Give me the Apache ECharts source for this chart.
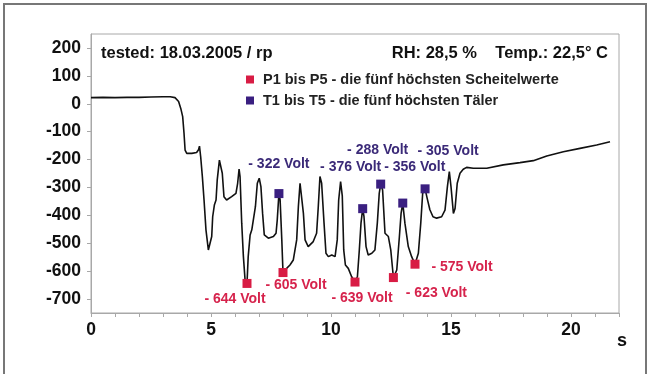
<!DOCTYPE html>
<html>
<head>
<meta charset="utf-8">
<script src="https://cdn.jsdelivr.net/npm/echarts@6/dist/echarts.min.js"></script>
<style>
html,body{margin:0;padding:0;background:#fff;}
#c{width:650px;height:374px;}
</style>
</head>
<body>
<div id="c"></div>
<script>
// ---- data ----
const timeS = [0,0.5,1.0,1.5,2.0,2.5,3.0,3.3,3.5,3.65,3.75,3.82,3.875,3.92,3.99,4.2,4.4,4.48,4.52,4.57,4.64,4.71,4.79,4.89,4.96,5.03,5.07,5.14,5.21,5.26,5.35,5.4,5.47,5.54,5.65,5.86,6.04,6.11,6.17,6.21,6.28,6.35,6.42,6.5,6.55,6.63,6.7,6.78,6.85,6.93,7.01,7.08,7.15,7.22,7.39,7.6,7.71,7.76,7.83,7.88,7.95,8.0,8.05,8.15,8.29,8.43,8.57,8.64,8.71,8.78,8.85,8.92,9.05,9.26,9.4,9.47,9.54,9.61,9.71,9.79,9.89,10.03,10.17,10.26,10.32,10.4,10.47,10.53,10.6,10.72,10.86,11.0,11.1,11.18,11.25,11.32,11.375,11.46,11.55,11.7,11.83,11.93,12.01,12.07,12.15,12.25,12.39,12.49,12.57,12.6,12.74,12.85,12.92,12.99,13.08,13.22,13.36,13.5,13.64,13.74,13.82,13.92,14.01,14.12,14.25,14.4,14.61,14.75,14.85,14.93,15.0,15.1,15.17,15.26,15.375,15.51,15.65,15.93,16.49,17.18,17.875,18.43,18.99,19.68,20.375,21.07,21.625];
const voltV = [22,23,22,23,23,24,25,25,22,8,-20,-46,-105,-166,-178,-178,-175,-165,-152,-190,-261,-345,-452,-524,-530,-476,-405,-363,-345,-273,-202,-196,-249,-333,-345,-333,-321,-285,-234,-261,-428,-548,-632,-644,-548,-470,-452,-446,-369,-285,-267,-297,-393,-470,-482,-476,-464,-417,-322,-345,-488,-605,-595,-590,-578,-560,-488,-369,-285,-291,-393,-488,-512,-494,-464,-369,-261,-285,-428,-536,-548,-542,-548,-488,-345,-279,-330,-524,-578,-590,-620,-639,-620,-524,-428,-376,-405,-512,-542,-536,-524,-428,-321,-288,-309,-464,-476,-524,-596,-623,-596,-476,-393,-356,-428,-512,-548,-575,-536,-428,-321,-305,-340,-380,-405,-410,-405,-381,-297,-243,-297,-393,-375,-285,-249,-235,-228,-231,-231,-219,-211,-204,-187,-172,-160,-148,-136];

const peakTime = [6.5, 8.0, 11.0, 12.6, 13.5];
const peakVolt = [-644, -605, -639, -623, -575];
const valleyTime = [7.83, 11.32, 12.07, 12.99, 13.92];
const valleyVolt = [-322, -376, -288, -356, -305];

const yTicks = [-700,-600,-500,-400,-300,-200,-100,0,100,200];
const xLabelStep = 5;

const peakName = 'P1 bis P5 - die fünf höchsten Scheitelwerte';
const valleyName = 'T1 bis T5 - die fünf höchsten Täler';
const headLeft = 'tested: 18.03.2005 / rp';
const headRight = 'RH: 28,5 %    Temp.: 22,5° C';
const xUnit = 's';

// ---- styling ----
const RED = '#d81c44';
const PURPLE = '#3a1f80';
const RED_TXT = '#d6234c';
const PURPLE_TXT = '#3b2a78';
const FONT = 'Liberation Sans, Arial, sans-serif';
const peakOffsets = [[-12,16],[13,13],[7,16],[43,16],[47,3]];
const valleyOffsets = [[0,-29],[-12,-42],[-3,-34],[12,-36],[23,-38]];

const lineData = timeS.map((t,i)=>[t, voltV[i]]);
const voltLabel = v => '- ' + Math.abs(v) + ' Volt';

const chart = echarts.init(document.getElementById('c'), null, {renderer:'canvas'});
chart.setOption({
  animation:false,
  backgroundColor:'#fff',
  textStyle:{fontFamily:FONT},
  grid:{left:91, right:31, top:34, bottom:61, show:true, borderColor:'#a8a8a8', borderWidth:1},
  title:[
    {text:headLeft, left:96, top:40, textStyle:{fontSize:16.5, fontWeight:'bold', color:'#111', fontFamily:FONT}},
    {text:headRight, right:37, top:40, textStyle:{fontSize:16.5, fontWeight:'bold', color:'#111', fontFamily:FONT}}
  ],
  legend:[
    {data:[peakName], left:241, top:67, itemWidth:8, itemHeight:8, icon:'rect',
     textStyle:{fontSize:14.5, fontWeight:'bold', color:'#222', fontFamily:FONT, padding:[0,0,0,4]}},
    {data:[valleyName], left:241, top:88, itemWidth:8, itemHeight:8, icon:'rect',
     textStyle:{fontSize:14.5, fontWeight:'bold', color:'#222', fontFamily:FONT, padding:[0,0,0,4]}}
  ],
  xAxis:{
    type:'value', min:0, max:22, interval:1,
    axisLine:{show:true, onZero:false, lineStyle:{color:'#a8a8a8'}},
    axisTick:{show:true, length:4, lineStyle:{color:'#a8a8a8'}},
    axisLabel:{margin:8, fontSize:17.5, fontWeight:'bold', color:'#111', fontFamily:FONT,
      formatter:v => (v % xLabelStep === 0 && v <= 20) ? String(v) : ''},
    splitLine:{show:false}
  },
  yAxis:{
    type:'value', min:-750, max:250,
    axisLine:{show:true, onZero:false, lineStyle:{color:'#a8a8a8'}},
    axisTick:{show:true, length:4, customValues:yTicks, lineStyle:{color:'#a8a8a8'}},
    axisLabel:{margin:10, fontSize:17.5, fontWeight:'bold', color:'#111', fontFamily:FONT, customValues:yTicks},
    splitLine:{show:false}
  },
  graphic:[
    {type:'rect', shape:{x:4, y:4, width:642, height:380}, style:{fill:'none', stroke:'#777', lineWidth:2}, silent:true},
    {type:'text', left:617, top:332, style:{text:xUnit, fontSize:18, fontWeight:'bold', fill:'#111', fontFamily:FONT}}
  ],
  series:[
    {type:'line', name:'signal', data:lineData, showSymbol:false, symbol:'none',
     lineStyle:{color:'#111', width:1.6}, z:2},
    {type:'scatter', name:peakName, symbol:'rect', symbolSize:9, itemStyle:{color:RED, opacity:1}, z:3,
     data:peakTime.map((t,i)=>({value:[t, peakVolt[i]],
       label:{show:true, formatter:voltLabel(peakVolt[i]), offset:peakOffsets[i], position:'inside',
         color:RED_TXT, fontSize:14, fontWeight:'bold', fontFamily:FONT}}))},
    {type:'scatter', name:valleyName, symbol:'rect', symbolSize:9, itemStyle:{color:PURPLE, opacity:1}, z:3,
     data:valleyTime.map((t,i)=>({value:[t, valleyVolt[i]],
       label:{show:true, formatter:voltLabel(valleyVolt[i]), offset:valleyOffsets[i], position:'inside',
         color:PURPLE_TXT, fontSize:14, fontWeight:'bold', fontFamily:FONT}}))}
  ]
});
</script>
</body>
</html>
